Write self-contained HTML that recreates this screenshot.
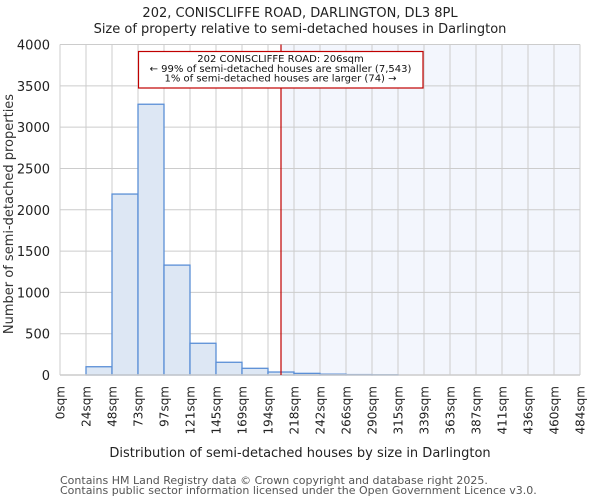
<!DOCTYPE html>
<html><head><meta charset="utf-8"><style>
body{margin:0;background:#fff;}
svg{display:block;font-family:"DejaVu Sans","Liberation Sans",sans-serif;}
</style></head><body>
<svg id="chart" width="600" height="500" xmlns="http://www.w3.org/2000/svg">
<rect width="600" height="500" fill="#fff"/>
<text x="300" y="17" text-anchor="middle" font-size="13" fill="#222">202, CONISCLIFFE ROAD, DARLINGTON, DL3 8PL</text>
<text x="300" y="33" text-anchor="middle" font-size="13" fill="#222">Size of property relative to semi-detached houses in Darlington</text>
<g id="plot"></g>
<text transform="translate(13,214) rotate(-90)" text-anchor="middle" font-size="13" fill="#333">Number of semi-detached properties</text>
<text x="300" y="457" text-anchor="middle" font-size="13" fill="#222">Distribution of semi-detached houses by size in Darlington</text>
<text x="60" y="484" font-size="11" fill="#555">Contains HM Land Registry data © Crown copyright and database right 2025.</text>
<text x="60" y="494" font-size="11" fill="#555">Contains public sector information licensed under the Open Government Licence v3.0.</text>
</svg>
<script>
const binLabels=["0sqm","24sqm","48sqm","73sqm","97sqm","121sqm","145sqm","169sqm","194sqm","218sqm","242sqm","266sqm","290sqm","315sqm","339sqm","363sqm","387sqm","411sqm","436sqm","460sqm","484sqm"];
const counts=[0,100,2190,3277,1330,384,154,81,36,20,10,5,3,0,0,0,0,0,0,0];
const yTicks=[0,500,1000,1500,2000,2500,3000,3500,4000];
const markerBin=8.5;
const ns="http://www.w3.org/2000/svg";
const L=60,R=580,T=44.5,B=375,yMax=4000;
const bw=(R-L)/counts.length;
const xs=i=>L+i*bw;
const ys=v=>B-(v/yMax)*(B-T);
const g=document.getElementById('plot');
function mk(t,a,p){const e=document.createElementNS(ns,t);for(const k in a)e.setAttribute(k,a[k]);(p||g).appendChild(e);return e;}
const mx=xs(markerBin);
let e=mk('rect',{x:mx,y:T,width:R-mx,height:B-T,fill:'#f3f6fd'});


for(let i=0;i<binLabels.length;i++){
  e=mk('line',{x1:xs(i),x2:xs(i),y1:T,y2:B,stroke:'#cccccc','stroke-width':1});
  
  
  e=mk('text',{transform:`translate(${xs(i)+4.5},386) rotate(-90)`,'text-anchor':'end','font-size':12,fill:'#222'});
  e.textContent=binLabels[i];
  
  
}
yTicks.forEach(v=>{
  e=mk('line',{x1:L,x2:R,y1:ys(v),y2:ys(v),stroke:'#cccccc','stroke-width':1});
  
  
  e=mk('text',{x:50,y:ys(v)+5,'text-anchor':'end','font-size':13,fill:'#222'});
  e.textContent=v;
  
  
});
counts.forEach((c,i)=>{
  if(c<=0)return;
  e=mk('rect',{x:xs(i),y:ys(c),width:bw,height:B-ys(c),fill:'#dde7f4',stroke:'#5b8fd6','stroke-width':1.3});
  
  
});
e=mk('line',{x1:L,x2:R,y1:B,y2:B,stroke:'#cccccc','stroke-width':1.5});


e=mk('line',{x1:mx,x2:mx,y1:T,y2:B,stroke:'#c00000','stroke-width':1.2});


e=mk('rect',{x:138.5,y:51.5,width:284.5,height:36.5,fill:'#fff',stroke:'#c00000','stroke-width':1.2});


const ann=["202 CONISCLIFFE ROAD: 206sqm","← 99% of semi-detached houses are smaller (7,543)","1% of semi-detached houses are larger (74) →"];
ann.forEach((t,k)=>{
  e=mk('text',{x:280.5,y:62+k*9.8,'text-anchor':'middle','font-size':10,fill:'#111'});
  e.textContent=t;
  
  
});
</script>
</body></html>
